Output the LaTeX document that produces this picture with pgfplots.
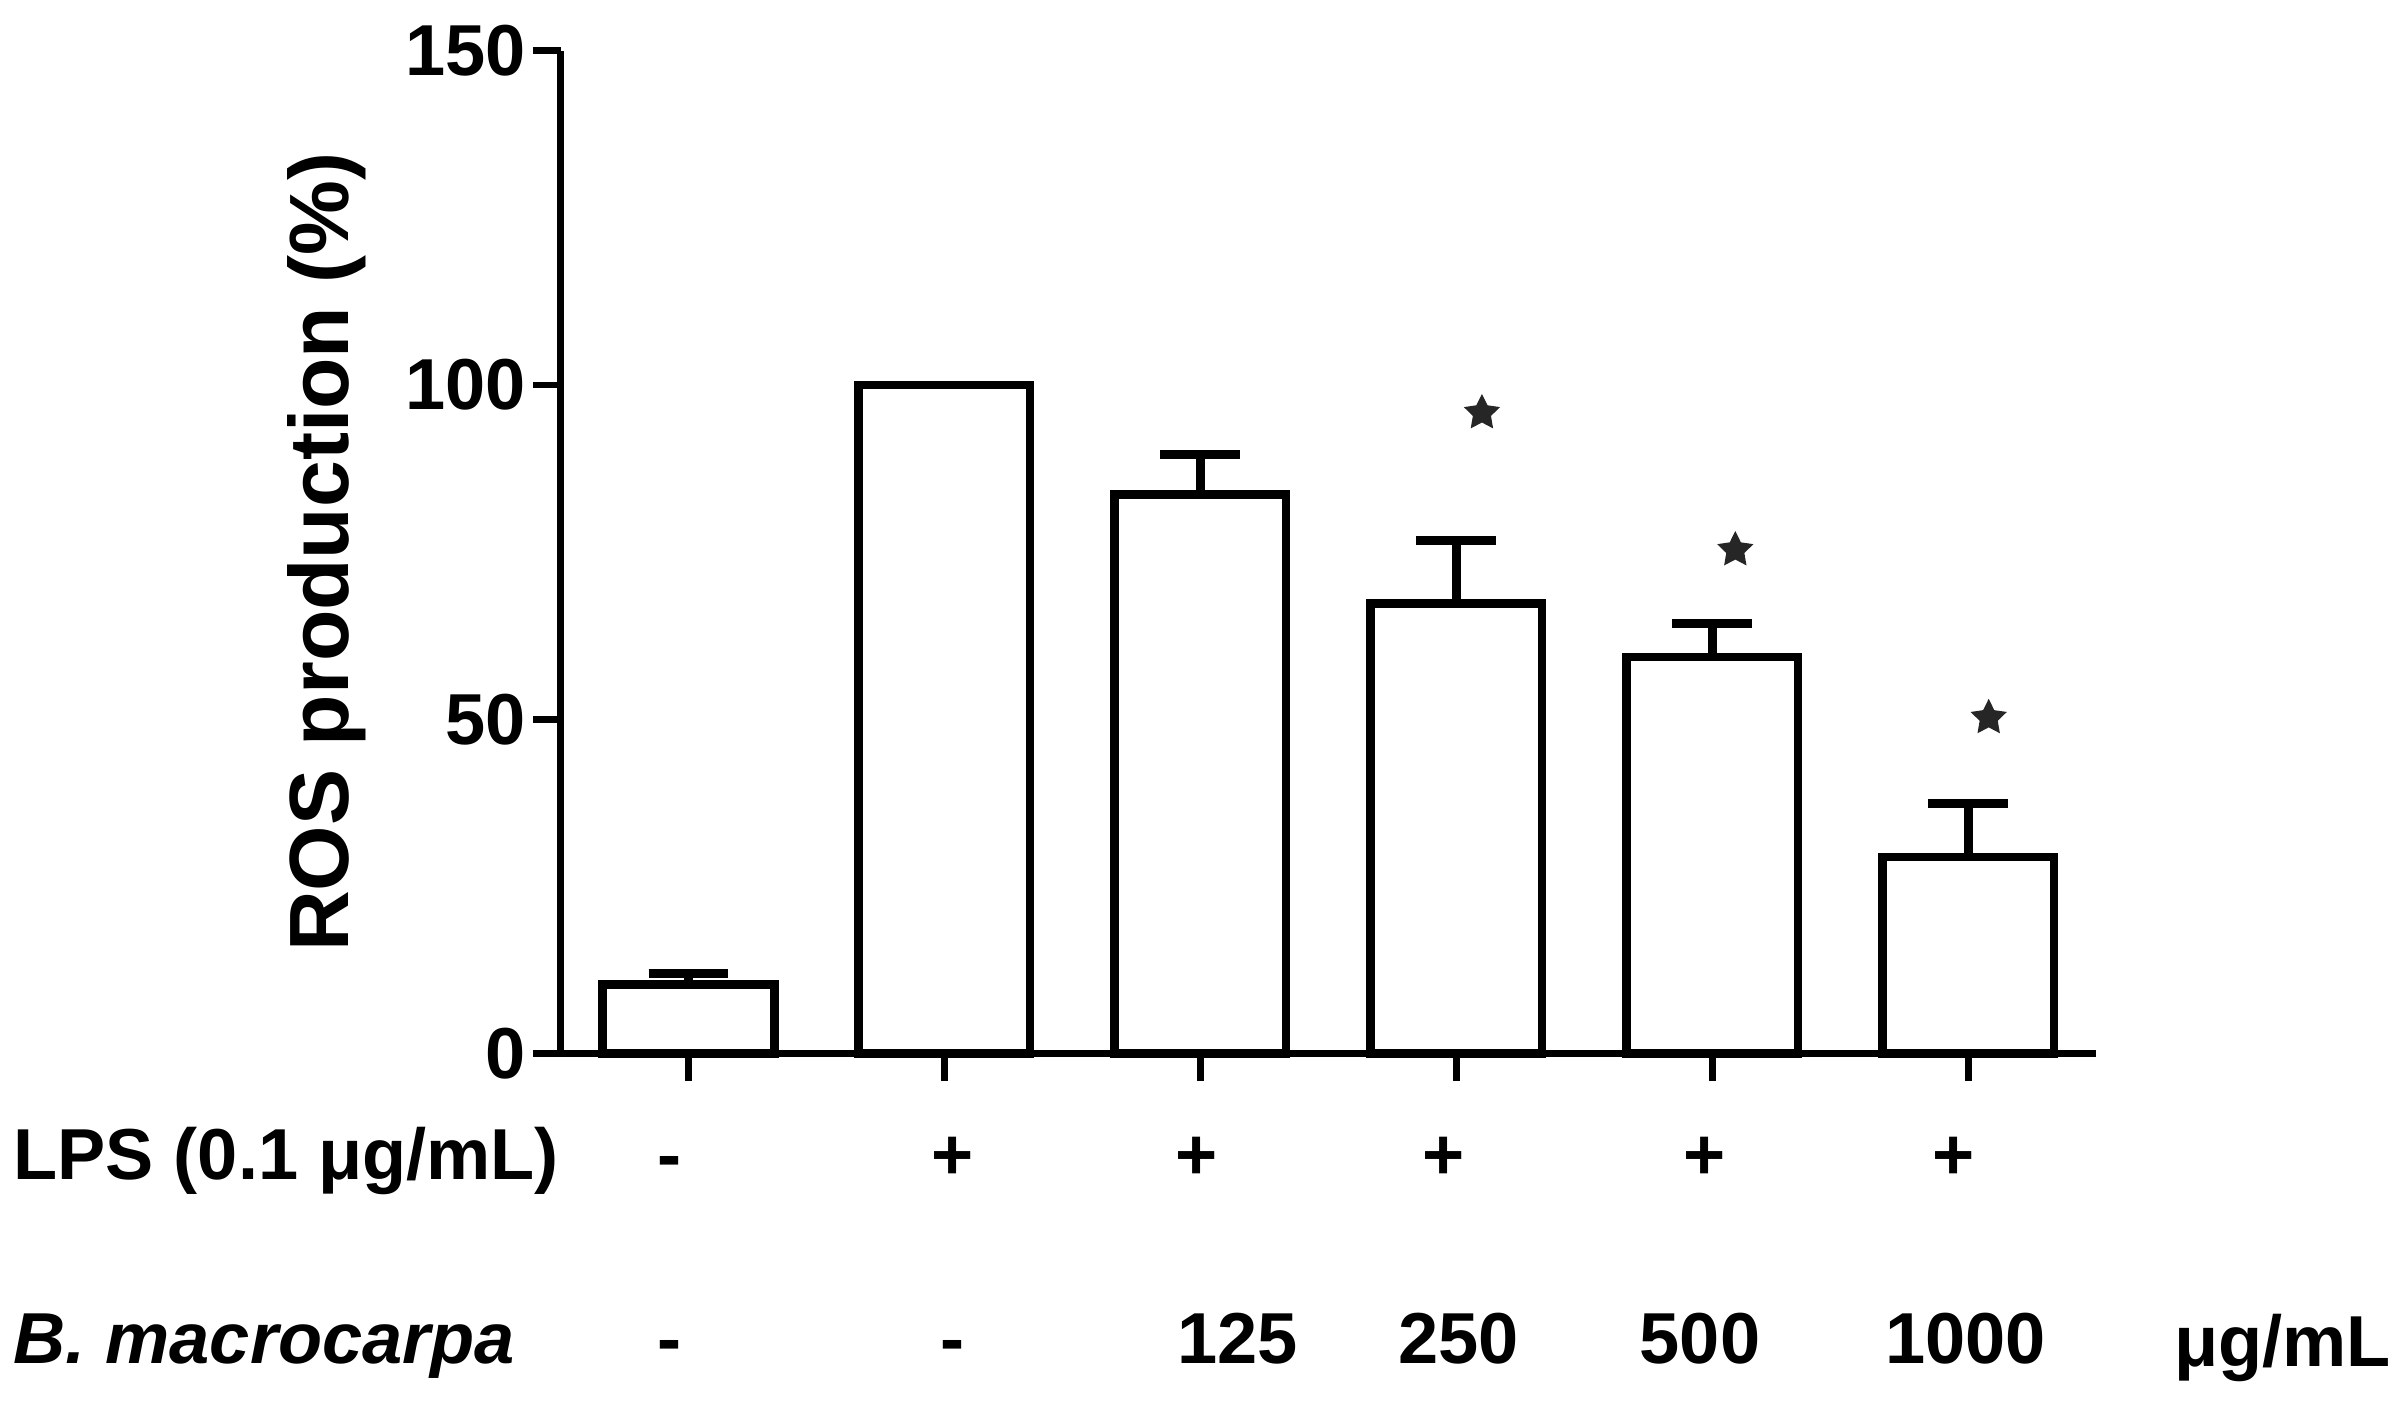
\documentclass[border=0pt]{standalone}
\usepackage{fontspec}
\setmainfont{Liberation Sans}
\usepackage{pgfplots}
\pgfplotsset{compat=1.18}
\newcommand{\lblfont}{\fontsize{11.75}{14}\selectfont\bfseries}
% filled five-point star
\pgfdeclareplotmark{fstar}{%
  \pgfpathmoveto{\pgfpointpolar{90}{\pgfplotmarksize}}%
  \pgfpathlineto{\pgfpointpolar{126}{0.5\pgfplotmarksize}}%
  \pgfpathlineto{\pgfpointpolar{162}{\pgfplotmarksize}}%
  \pgfpathlineto{\pgfpointpolar{198}{0.5\pgfplotmarksize}}%
  \pgfpathlineto{\pgfpointpolar{234}{\pgfplotmarksize}}%
  \pgfpathlineto{\pgfpointpolar{270}{0.5\pgfplotmarksize}}%
  \pgfpathlineto{\pgfpointpolar{306}{\pgfplotmarksize}}%
  \pgfpathlineto{\pgfpointpolar{342}{0.5\pgfplotmarksize}}%
  \pgfpathlineto{\pgfpointpolar{18}{\pgfplotmarksize}}%
  \pgfpathlineto{\pgfpointpolar{54}{0.5\pgfplotmarksize}}%
  \pgfpathclose
  \pgfusepathqfill}
\begin{document}
\begin{tikzpicture}
\useasboundingbox (-91.25pt,-57.75pt) rectangle (300.75pt,171.5pt);
\begin{axis}[
    scale only axis, width=250pt, height=163.25pt,
    xmin=-0.5, xmax=5.5, ymin=0, ymax=150,
    axis lines=left, axis line style={-, line width=1.1pt},
    xtick={0,1,2,3,4,5}, xticklabels={},
    ytick={0,50,100,150},
    tick align=outside, major tick length=4.5pt,
    tick style={line width=1.1pt, black},
    clip=false,
    /pgf/number format/assume math mode=true,
    tick label style={font=\lblfont},
    yticklabel style={inner sep=1pt},
    ylabel={ROS production (\%)},
    ylabel style={font=\fontsize{13.7}{16}\selectfont\bfseries,
                  at={(axis description cs:-0.152,0.5)}, anchor=center},
]
\addplot[ybar, bar width=0.67, fill=white, draw=black, line width=1.4pt,
    error bars/.cd, y dir=plus, y explicit,
    error bar style={line width=1.4pt},
    error mark options={rotate=90, line width=1.4pt, mark size=6.5pt}]
  coordinates {(0,10.3) +- (0,1.7) (1,100) +- (0,0) (2,83.6) +- (0,6.0)
               (3,67.3) +- (0,9.4) (4,59.3) +- (0,5.0) (5,29.4) +- (0,8.0)};
% significance stars
\addplot[only marks, mark=fstar, mark size=3.1pt, black!85]
  coordinates {(3.1,95.8) (4.09,75.3) (5.08,50.2)};
\end{axis}
\begin{scope}[every node/.style={font=\lblfont, anchor=base, inner sep=0pt}]
\node[anchor=base west] at (-89.25pt,-20.5pt) {LPS (0.1 μg/mL)};
\node at (17.75pt,-20.5pt) {-};
\node at (63.75pt,-20.5pt) {+};
\node at (103.5pt,-20.5pt) {+};
\node at (143.75pt,-20.5pt) {+};
\node at (186.25pt,-20.5pt) {+};
\node at (226.75pt,-20.5pt) {+};
\node[anchor=base west] at (-89.25pt,-50.5pt) {\itshape B. macrocarpa};
\node at (17.75pt,-50.5pt) {-};
\node at (63.75pt,-50.5pt) {-};
\node at (110.25pt,-50.5pt) {125};
\node at (146.25pt,-50.5pt) {250};
\node at (185.5pt,-50.5pt) {500};
\node at (228.75pt,-50.5pt) {1000};
\node[anchor=base west] at (262.5pt,-51pt) {μg/mL};
\end{scope}
\end{tikzpicture}
\end{document}
